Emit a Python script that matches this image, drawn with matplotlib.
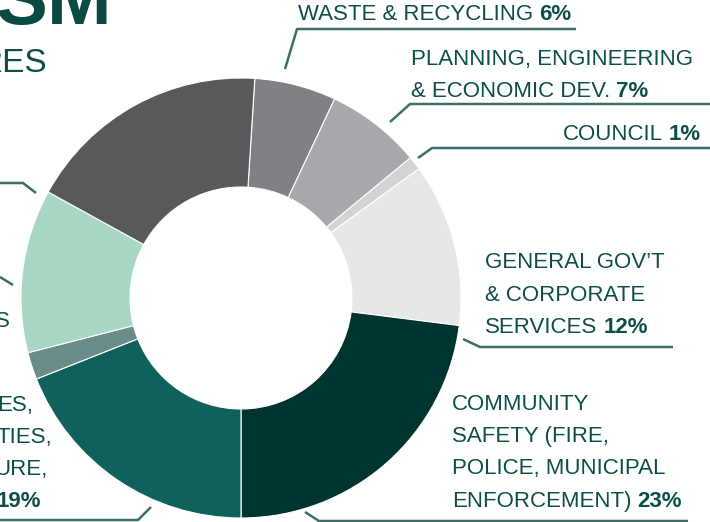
import matplotlib
matplotlib.use("Agg")
import matplotlib.pyplot as plt

# --- Data ---
slice_names = ["Waste & Recycling", "Planning, Engineering & Economic Dev.", "Council",
               "General Gov't & Corporate Services", "Community Safety",
               "Infrastructure", "Other (small)", "Mint slice", "Dark slice"]
slice_values = [6, 7, 1, 12, 23, 19, 2, 12, 18]
slice_colors = ["#808184", "#a7a9ac", "#d1d3d4", "#e6e7e8", "#00352f",
                "#10605c", "#6a8d8a", "#a8d8c4", "#58595b"]

TEXT = "#0d4f48"
LINE = "#3f6e69"
W, H = 710, 522


def Y(y):
    # image pixel row -> data y
    return H - y


fig = plt.figure(figsize=(7.10, 5.22), dpi=100)
ax = fig.add_axes([0, 0, 1, 1])

ax.pie(slice_values, colors=slice_colors, startangle=90 - 3.6, counterclock=False,
       center=(241, Y(298)), radius=220, frame=True,
       wedgeprops=dict(width=109, edgecolor="white", linewidth=0.8))
ax.set_xlim(0, W)
ax.set_ylim(0, H)
ax.set_aspect("equal")
ax.axis("off")

renderer = fig.canvas.get_renderer()
FS = 16
FONT = ["Liberation Sans", "DejaVu Sans"]


def label_line(x, y, regular, bold=None, ha="left"):
    """ draw one text line, optionally with a bold tail """
    if ha == "right":
        if bold:
            b = ax.text(x, Y(y), bold, fontsize=FS, fontweight="bold", color=TEXT,
                        family=FONT, ha="right", va="baseline")
            bb = b.get_window_extent(renderer)
            x = bb.x0 - 5
        if regular:
            ax.text(x, Y(y), regular, fontsize=FS, color=TEXT, family=FONT,
                    ha="right", va="baseline")
        return
    t = ax.text(x, Y(y), regular, fontsize=FS, color=TEXT, family=FONT,
                ha="left", va="baseline")
    if bold:
        bb = t.get_window_extent(renderer)
        xb = bb.x1 + (6 if regular else 0)
        ax.text(xb, Y(y), bold, fontsize=FS, fontweight="bold", color=TEXT,
                family=FONT, ha="left", va="baseline")


def leader(points):
    xs = [p[0] for p in points]
    ys = [Y(p[1]) for p in points]
    ax.plot(xs, ys, color=LINE, lw=1.8, solid_capstyle="butt", clip_on=False)


# title fragments (cut off in the source)
ax.text(113, Y(24), "SM", fontsize=56, fontweight="bold", color="#0a4a43",
        family=FONT, ha="right", va="baseline")
ax.text(47, Y(72), "RES", fontsize=24, color=TEXT, family=FONT,
        ha="right", va="baseline")

# waste
label_line(298, 20, "WASTE & RECYCLING", "6%")
leader([(285, 69), (297, 29), (576, 29)])

# planning
label_line(411, 65, "PLANNING, ENGINEERING")
label_line(411, 97, "& ECONOMIC DEV.", "7%")
leader([(390, 122), (410, 104), (710, 104)])

# council
label_line(563, 140, "COUNCIL", "1%")
leader([(418, 158), (432, 148), (710, 148)])

# general gov
label_line(485, 268, "GENERAL GOV\u2019T")
label_line(485, 301, "& CORPORATE")
label_line(485, 333, "SERVICES", "12%")
leader([(463, 339), (480, 347), (673, 347)])

# community safety
label_line(452, 410, "COMMUNITY")
label_line(452, 442, "SAFETY (FIRE,")
label_line(452, 474, "POLICE, MUNICIPAL")
label_line(452, 507, "ENFORCEMENT)", "23%")
leader([(305, 512), (319, 521), (688, 521)])

# infrastructure (left, cut off)
label_line(33, 411, "ES,", ha="right")
label_line(52, 443, "TIES,", ha="right")
label_line(48, 475, "URE,", ha="right")
label_line(41, 507, None, "19%", ha="right")
leader([(0, 520), (138, 520), (151, 507)])

# left leaders (labels off-canvas)
label_line(10, 327, "S", ha="right")
leader([(0, 277), (13, 285)])
leader([(0, 183), (23, 183), (36, 193)])

fig.savefig("out.png", dpi=100)
